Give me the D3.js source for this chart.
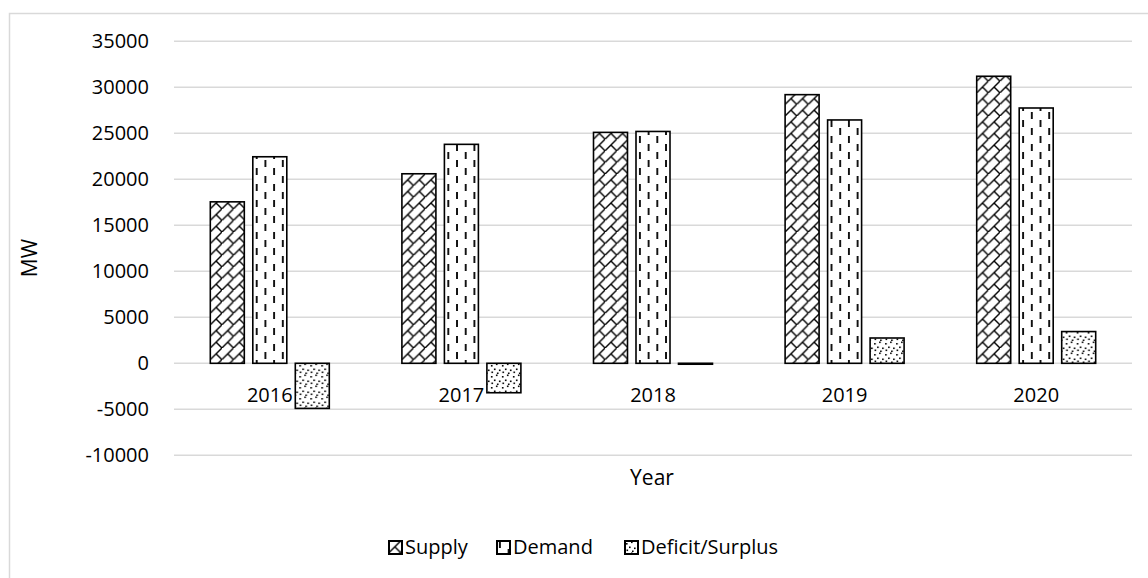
<!DOCTYPE html>
<html>
<head>
<meta charset="utf-8">
<script src="https://cdn.jsdelivr.net/npm/d3@7"></script>
<style>
  html, body { margin: 0; padding: 0; background: #fff; }
  svg { display: block; font-family: "Open Sans", "Noto Sans", sans-serif; }
</style>
</head>
<body>
<svg id="chart" width="1148" height="578"></svg>
<script>
// ---- data ----
const years = ["2016", "2017", "2018", "2019", "2020"];
const seriesNames = ["Supply", "Demand", "Deficit/Surplus"];
const supply = [17550, 20600, 25100, 29200, 31200];
const demand = [22450, 23800, 25200, 26450, 27750];
const deficit = [-4900, -3200, -100, 2750, 3450];
const yTicks = [-10000, -5000, 0, 5000, 10000, 15000, 20000, 25000, 30000, 35000];

const seriesValues = [supply, demand, deficit];
const patternIds = ["pSupply", "pDemand", "pDeficit"];

const svg = d3.select("#chart");
const W = 1148, H = 578;

// ---- patterns ----
const defs = svg.append("defs");
// diagonal brick
const P = 11.6;
const pS = defs.append("pattern").attr("id", "pSupply").attr("patternUnits", "userSpaceOnUse")
  .attr("width", P).attr("height", P);
pS.append("rect").attr("width", P).attr("height", P).attr("fill", "#fff");
pS.append("path").attr("d", `M${P},0 L0,${P} M${P/2},${P/2} L${P},${P}`)
  .attr("stroke", "#000").attr("stroke-width", 1.4).attr("fill", "none");
pS.append("path").attr("d", `M${P+P},0 L${P},${P} M-${P/2},${P/2} L0,${P}`)
  .attr("stroke", "#000").attr("stroke-width", 1.4).attr("fill", "none");
// dashed vertical
const dw = 17.4, dh = 16;
const pD = defs.append("pattern").attr("id", "pDemand").attr("patternUnits", "userSpaceOnUse")
  .attr("width", dw).attr("height", dh);
pD.append("rect").attr("width", dw).attr("height", dh).attr("fill", "#fff");
pD.append("rect").attr("x", 2).attr("y", 0).attr("width", 1.8).attr("height", 7).attr("fill", "#000");
pD.append("rect").attr("x", 2 + dw / 2).attr("y", 8).attr("width", 1.8).attr("height", 7).attr("fill", "#000");
// confetti dots
const cw = 11;
const pF = defs.append("pattern").attr("id", "pDeficit").attr("patternUnits", "userSpaceOnUse")
  .attr("width", cw).attr("height", cw);
pF.append("rect").attr("width", cw).attr("height", cw).attr("fill", "#fff");
[[1, 2], [6, 0.5], [4, 5.5], [9, 6.5], [1.5, 8.5], [7, 9.5]].forEach(([x, y]) =>
  pF.append("rect").attr("x", x).attr("y", y).attr("width", 1.6).attr("height", 1.6).attr("fill", "#000"));

// ---- outer border ----
svg.append("rect").attr("x", 9.5).attr("y", 13.5).attr("width", W + 10).attr("height", H + 10)
  .attr("fill", "none").attr("stroke", "#d9d9d9").attr("stroke-width", 1.5);

// ---- scales ----
const plotL = 174, plotR = 1132;
const y = d3.scaleLinear().domain([-10000, 35000]).range([455.3, 41.3]);
const x0 = d3.scaleBand().domain(years).range([plotL, plotR]).paddingInner(0.379).paddingOuter(0.1895);
const x1 = d3.scaleBand().domain(seriesNames).range([0, x0.bandwidth()]).paddingInner(0.2).paddingOuter(0);

// ---- gridlines ----
svg.append("g").selectAll("line").data(yTicks).join("line")
  .attr("x1", plotL).attr("x2", plotR)
  .attr("y1", d => y(d)).attr("y2", d => y(d))
  .attr("stroke", "#d9d9d9").attr("stroke-width", 1.5);

// ---- y axis labels ----
const yAxis = d3.axisLeft(y).tickValues(yTicks).tickSize(0).tickPadding(0).tickFormat(d => String(d));
const gy = svg.append("g").attr("transform", `translate(149,0)`).call(yAxis);
gy.select(".domain").remove();
gy.selectAll("text").attr("font-size", 20).attr("fill", "#000").attr("font-family", "Open Sans");

// ---- bars ----
const groups = svg.append("g").selectAll("g").data(years).join("g")
  .attr("transform", d => `translate(${x0(d)},0)`);
groups.selectAll("rect").data((d, i) => seriesNames.map((s, j) => ({ s, j, v: seriesValues[j][i] })))
  .join("rect")
  .attr("x", d => x1(d.s))
  .attr("width", x1.bandwidth())
  .attr("y", d => y(Math.max(0, d.v)))
  .attr("height", d => Math.abs(y(d.v) - y(0)))
  .attr("fill", d => `url(#${patternIds[d.j]})`)
  .attr("stroke", "#000").attr("stroke-width", 1.6);

// ---- x axis labels ----
const xAxis = d3.axisBottom(x0).tickSize(0).tickPadding(0);
const gx = svg.append("g").attr("transform", `translate(0,${y(0) + 24})`).call(xAxis);
gx.select(".domain").remove();
gx.selectAll("text").attr("font-size", 20).attr("fill", "#000").attr("font-family", "Open Sans");

// ---- axis titles ----
svg.append("text").attr("x", 652).attr("y", 485).attr("text-anchor", "middle")
  .attr("font-size", 21).attr("fill", "#000").text("Year");
svg.append("text").attr("transform", `translate(37,258) rotate(-90)`).attr("text-anchor", "middle")
  .attr("font-size", 21).attr("fill", "#000").text("MW");

// ---- legend ----
const legendX = [389, 497, 625];
const leg = svg.append("g").selectAll("g").data(seriesNames).join("g")
  .attr("transform", (d, i) => `translate(${legendX[i]},541)`);
leg.append("rect").attr("width", 13).attr("height", 13)
  .attr("fill", (d, i) => `url(#${patternIds[i]})`).attr("stroke", "#000").attr("stroke-width", 2);
leg.append("text").attr("x", 16).attr("y", 13).attr("font-size", 20).attr("fill", "#000").text(d => d);
</script>
</body>
</html>
